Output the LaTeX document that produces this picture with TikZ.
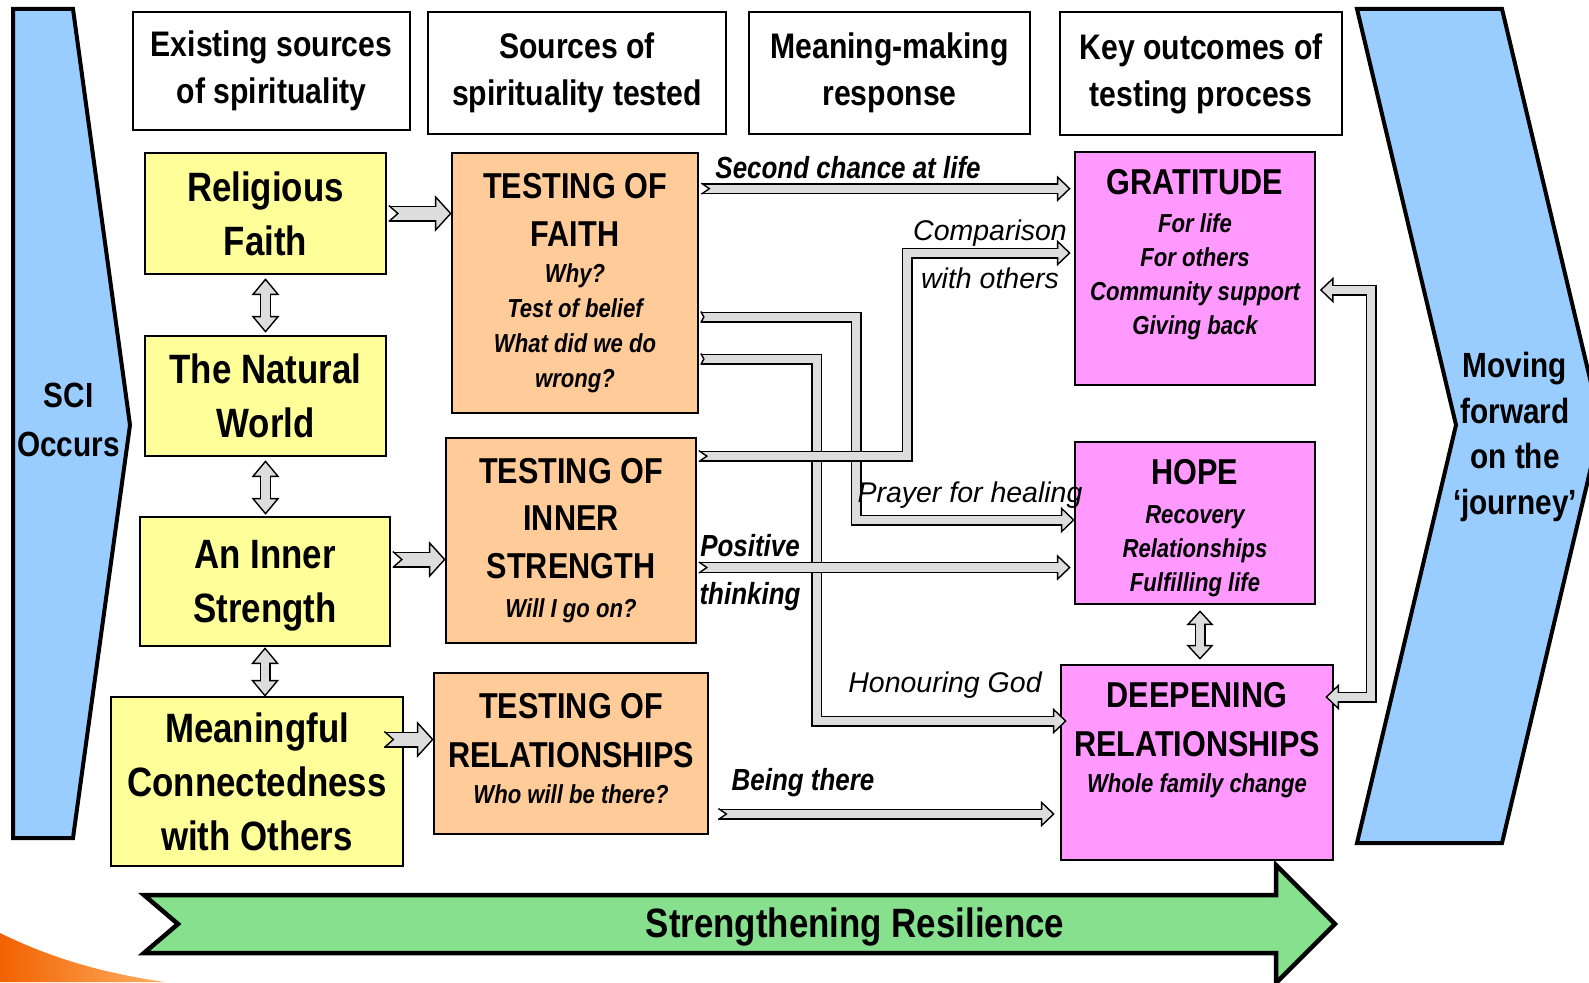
\documentclass[tikz,border=0pt]{standalone}
\usepackage{fontspec}
\setmainfont{Liberation Sans}[FakeStretch=0.85]
\newfontfamily\plainsans{Liberation Sans}
\usetikzlibrary{calc}

\definecolor{sciblue}{RGB}{153,204,255}
\definecolor{srcyellow}{RGB}{255,255,153}
\definecolor{testorange}{RGB}{255,204,153}
\definecolor{outpink}{RGB}{255,153,255}
\definecolor{resgreen}{RGB}{134,224,142}
\definecolor{flowgray}{RGB}{221,221,221}
\definecolor{swooshdark}{RGB}{242,98,0}
\definecolor{swooshlight}{RGB}{255,176,100}

\newcommand{\hdrfnt}{\fontsize{35.5}{47}\selectfont\bfseries}
\newcommand{\srcfnt}{\fontsize{41}{54}\selectfont\bfseries}
\newcommand{\subfnt}{\fontsize{26}{35}\selectfont\bfseries\itshape}
\newcommand{\outfnt}{\fontsize{26}{34}\selectfont\bfseries\itshape}
\newcommand{\ttl}[1]{{\fontsize{36}{48}\selectfont\upshape #1}}
\newcommand{\boldlbl}{\fontsize{30.5}{48}\selectfont\bfseries\itshape}
\newcommand{\thinlbl}{\plainsans\fontsize{28.5}{48}\selectfont\itshape}
\newcommand{\scifnt}{\fontsize{35}{49}\selectfont\bfseries}
\newcommand{\movefnt}{\fontsize{35}{45.5}\selectfont\bfseries}
\newcommand{\resfnt}{\fontsize{41}{48}\selectfont\bfseries}

% grey block arrow: outline, heads, then grey core
\newcommand{\blockarrow}[4][]{%
  \draw[#2out,#1] #3;
  #4
  \draw[#2in,#1] #3;
}

\tikzset{
  header/.style={draw, line width=2.6pt, fill=white, align=center, inner sep=0pt, font=\hdrfnt},
  source/.style={draw, line width=2.7pt, fill=srcyellow, align=center, inner sep=0pt, font=\srcfnt},
  testing/.style={draw, line width=2.7pt, fill=testorange, align=center, inner sep=0pt, font=\subfnt},
  outcome/.style={draw, line width=2.7pt, fill=outpink, inner sep=0pt},
  outtext/.style={align=center, inner sep=0pt, font=\outfnt},
  chevtext/.style={align=center, inner sep=0pt},
  boldlabel/.style={align=center, inner sep=0pt, font=\boldlbl},
  thinlabel/.style={align=center, inner sep=0pt, font=\thinlbl},
  chevron/.style={fill=sciblue, draw=black, line width=4pt, line join=miter},
  flowout/.style={draw=black, line width=11pt, line join=miter},
  flowin/.style={draw=flowgray, line width=8.2pt, line join=miter},
  fatout/.style={draw=black, line width=16pt, line join=miter},
  fatin/.style={draw=flowgray, line width=13.2pt, line join=miter},
  pics/flowhead/.style n args={3}{code={
    \filldraw[fill=flowgray, draw=black, line width=1.4pt, line join=miter, rotate=#1]
      (0pt,0pt) -- (-#3,#2) -- (-#3,-#2) -- cycle;
  }},
  pics/flowtail/.style n args={4}{code={
    \fill[#4, rotate=#1] (-0.6pt,#2) -- (#3,0pt) -- (-0.6pt,-#2) -- cycle;
    \draw[line width=1.4pt, line join=miter, rotate=#1] (0pt,#2) -- (#3,0pt) -- (0pt,-#2);
  }},
}

\begin{document}
\begin{tikzpicture}[x=1pt, y=-1pt]
\useasboundingbox (0,0) rectangle (1589,982);
\clip (0,0) rectangle (1589,982);

% corner swoosh
\shade[left color=swooshdark, right color=swooshlight] (0,933) .. controls (45,955) and (95,972) .. (165,982) -- (0,982) -- cycle;

% side chevrons
\filldraw[chevron] (13,9) -- (73,9) -- (130,425) -- (73,838) -- (13,838) -- cycle;
\node[chevtext, font=\scifnt] (sci) at (68.5,420) {SCI\\Occurs};
\filldraw[chevron] (1357,9) -- (1502,9) -- (1601,425) -- (1502,843) -- (1357,843) -- (1456,425) -- cycle;
\node[chevtext, font=\movefnt] (move) at (1515,437) {Moving\\forward\\on the\\`journey'};

% column headers
\node[header, minimum width=277pt, minimum height=118pt] (exist) at (271.5,71) {Existing sources\\of spirituality};
\node[header, minimum width=298pt, minimum height=122pt] (tested) at (577,73) {Sources of\\spirituality tested};
\node[header, minimum width=281pt, minimum height=122pt] (meaning) at (889.5,73) {Meaning-making\\response};
\node[header, minimum width=282pt, minimum height=123pt] (keyout) at (1201,73.5) {Key outcomes of\\testing process};

% existing sources
\node[source, minimum width=241pt, minimum height=121pt] (rf) at (265.5,213.5) {Religious\\Faith};
\node[source, minimum width=241pt, minimum height=120pt] (nw) at (265.5,396) {The Natural\\World};
\node[source, minimum width=250pt, minimum height=129pt, text depth=-3.5pt] (is) at (265,581.5) {An Inner\\Strength};
\node[source, minimum width=292pt, minimum height=169pt, text depth=-6pt] (mc) at (257,781.5) {Meaningful\\Connectedness\\with Others};

% testing boxes
\node[testing, minimum width=246pt, minimum height=260pt] (tf) at (575,283)
  {\ttl{TESTING OF}\\[13pt]\ttl{FAITH}\\[1pt]Why?\\Test of belief\\What did we do\\wrong?};
\node[testing, minimum width=250pt, minimum height=205pt] (ti) at (571,540.5)
  {\ttl{TESTING OF}\\[12pt]\ttl{INNER}\\[13pt]\ttl{STRENGTH}\\[4pt]Will I go on?};
\node[testing, minimum width=274pt, minimum height=161pt, text depth=10pt] (tr) at (571,753.5)
  {\ttl{TESTING OF}\\[14pt]\ttl{RELATIONSHIPS}\\[1pt]Who will be there?};

% outcomes
\node[outcome, minimum width=240pt, minimum height=233pt] (gr) at (1195,268.5) {};
\node[outtext] (grtext) at (1195,255) {\ttl{GRATITUDE}\\[4pt]For life\\For others\\Community support\\Giving back};
\node[outcome, minimum width=240pt, minimum height=162pt] (ho) at (1195,523) {};
\node[outtext] (hotext) at (1195,528) {\ttl{HOPE}\\[5pt]Recovery\\Relationships\\Fulfilling life};
\node[outcome, minimum width=272pt, minimum height=195pt] (dr) at (1197,762.5) {};
\node[outtext] (drtext) at (1197,740) {\ttl{DEEPENING}\\[15pt]\ttl{RELATIONSHIPS}\\[2pt]Whole family change};

% resilience bar
\filldraw[fill=resgreen, line width=4.5pt, line join=miter] (144,895) -- (1276,895) -- (1276,865) -- (1335,924) -- (1276,983) -- (1276,953) -- (144,953) -- (178,924) -- cycle;
\node[font=\resfnt, anchor=base, inner sep=0pt] (resil) at (855,937) {Strengthening Resilience};

% arrow ends
\coordinate (rfA) at ([xshift=1.5pt]rf.east);
\coordinate (rfB) at (rf.east -| tf.west);
\coordinate (isA) at ([xshift=1.5pt,yshift=22pt]is.east);
\coordinate (isB) at (isA -| ti.west);
\coordinate (mcA) at ([xshift=-20pt,yshift=42pt]mc.east);
\coordinate (mcB) at (mcA -| tr.west);
\coordinate (secA) at ([xshift=2pt,yshift=-37pt]tf.north east);
\coordinate (secB) at ([xshift=-4pt]secA -| gr.west);
\coordinate (prayA) at ([xshift=1.5pt,yshift=-34pt]tf.east);
\coordinate (prayB) at ([yshift=3pt]ho.west);
\coordinate (honA) at ([xshift=1.5pt,yshift=-76pt]tf.east);
\coordinate (honB) at ([xshift=6pt,yshift=41.5pt]dr.west);
\coordinate (cmpA) at ([xshift=1.5pt,yshift=-19.5pt]ti.north east);
\coordinate (cmpB) at ([xshift=-4pt,yshift=15.5pt]gr.west);
\coordinate (posA) at ([xshift=1.5pt,yshift=-27pt]ti.east);
\coordinate (posB) at ([xshift=-4pt]posA -| ho.west);
\coordinate (beA) at ([xshift=9pt,yshift=-60.5pt]tr.east);
\coordinate (beB) at ([xshift=-6pt]beA -| dr.west);
\coordinate (fbA) at ([xshift=4.5pt,yshift=-21.5pt]gr.east);
\coordinate (fbB) at ([xshift=-8pt,yshift=65.5pt]dr.east);
\coordinate (v1A) at ([yshift=-4pt]rf.south);
\coordinate (v1B) at ([yshift=3pt]nw.north);
\coordinate (v2A) at ([yshift=-4pt]nw.south);
\coordinate (v2B) at ([yshift=2pt]v2A |- is.north);
\coordinate (v3A) at ([yshift=-1pt]is.south);
\coordinate (v3B) at (v3A |- mc.north);
\coordinate (v4A) at ([xshift=5pt,yshift=-6pt]ho.south);
\coordinate (v4B) at ([yshift=5pt]v4A |- dr.north);

% sources into testing
\blockarrow[shorten >=13pt]{fat}{(rfA) -- (rfB)}{\pic at (rfB) {flowhead={0}{16.5pt}{15pt}};}
\pic at (rfA) {flowtail={0}{8pt}{9pt}{white}};
\blockarrow[shorten >=13pt]{fat}{(isA) -- (isB)}{\pic at (isB) {flowhead={0}{16.5pt}{15pt}};}
\pic at (isA) {flowtail={0}{8pt}{9pt}{white}};
\blockarrow[shorten >=13pt]{fat}{(mcA) -- (mcB)}{\pic at (mcB) {flowhead={0}{16.5pt}{15pt}};}
\pic at (mcA) {flowtail={0}{8pt}{9pt}{srcyellow}};

% links between sources
\blockarrow[shorten >=13pt, shorten <=13pt]{flow}{(v1A) -- (v1B)}{\pic at (v1A) {flowhead={90}{12.5pt}{15pt}}; \pic at (v1B) {flowhead={-90}{12.5pt}{15pt}};}
\blockarrow[shorten >=13pt, shorten <=13pt]{flow}{(v2A) -- (v2B)}{\pic at (v2A) {flowhead={90}{12.5pt}{15pt}}; \pic at (v2B) {flowhead={-90}{12.5pt}{15pt}};}
\blockarrow[shorten >=13pt, shorten <=13pt]{flow}{(v3A) -- (v3B)}{\pic at (v3A) {flowhead={90}{12.5pt}{15pt}}; \pic at (v3B) {flowhead={-90}{12.5pt}{15pt}};}
\blockarrow[shorten >=11pt, shorten <=11pt]{flow}{(v4A) -- (v4B)}{\pic at (v4A) {flowhead={90}{12pt}{13pt}}; \pic at (v4B) {flowhead={-90}{12pt}{13pt}};}

% meaning-making responses
\blockarrow[shorten >=10pt]{flow}{(prayA) -| ([xshift=-217.5pt]prayB) -- (prayB)}{\pic at (prayB) {flowhead={0}{11.5pt}{12pt}};}
\pic at (prayA) {flowtail={0}{5.5pt}{3pt}{white}};
\blockarrow[shorten >=10pt]{flow}{(honA) -| ([xshift=-249pt]honB) -- (honB)}{\pic at (honB) {flowhead={0}{11.5pt}{12pt}};}
\pic at (honA) {flowtail={0}{5.5pt}{3pt}{white}};
\blockarrow[shorten >=10pt]{flow}{(cmpA) -| ([xshift=-162.5pt]cmpB) -- (cmpB)}{\pic at (cmpB) {flowhead={0}{11.5pt}{12pt}};}
\pic at (cmpA) {flowtail={0}{5.5pt}{8pt}{white}};
\blockarrow[shorten >=10pt]{flow}{(posA) -- (posB)}{\pic at (posB) {flowhead={0}{11.5pt}{12pt}};}
\pic at (posA) {flowtail={0}{5.5pt}{8pt}{white}};
\blockarrow[shorten >=10pt]{flow}{(secA) -- (secB)}{\pic at (secB) {flowhead={0}{11.5pt}{12pt}};}
\pic at (secA) {flowtail={0}{5.5pt}{8pt}{white}};
\blockarrow[shorten >=10pt]{flow}{(beA) -- (beB)}{\pic at (beB) {flowhead={0}{11.5pt}{12pt}};}
\pic at (beA) {flowtail={0}{5.5pt}{8pt}{white}};
\blockarrow[shorten >=10pt, shorten <=10pt]{flow}{(fbA) -| ([xshift=45pt]fbB) -- (fbB)}{\pic at (fbA) {flowhead={180}{11.5pt}{12pt}}; \pic at (fbB) {flowhead={180}{11.5pt}{12pt}};}

% response labels
\node[boldlabel, anchor=base] (seclbl) at (848,178) {Second chance at life};
\node[thinlabel] (cmplbl) at (990,254) {Comparison\\with others};
\node[thinlabel, anchor=base] (praylbl) at (970,502) {Prayer for healing};
\node[boldlabel] (poslbl) at (750,573) {Positive\\thinking};
\node[thinlabel, anchor=base] (honlbl) at (945,692) {Honouring God};
\node[boldlabel, anchor=base] (belbl) at (803,790) {Being there};
\end{tikzpicture}
\end{document}
